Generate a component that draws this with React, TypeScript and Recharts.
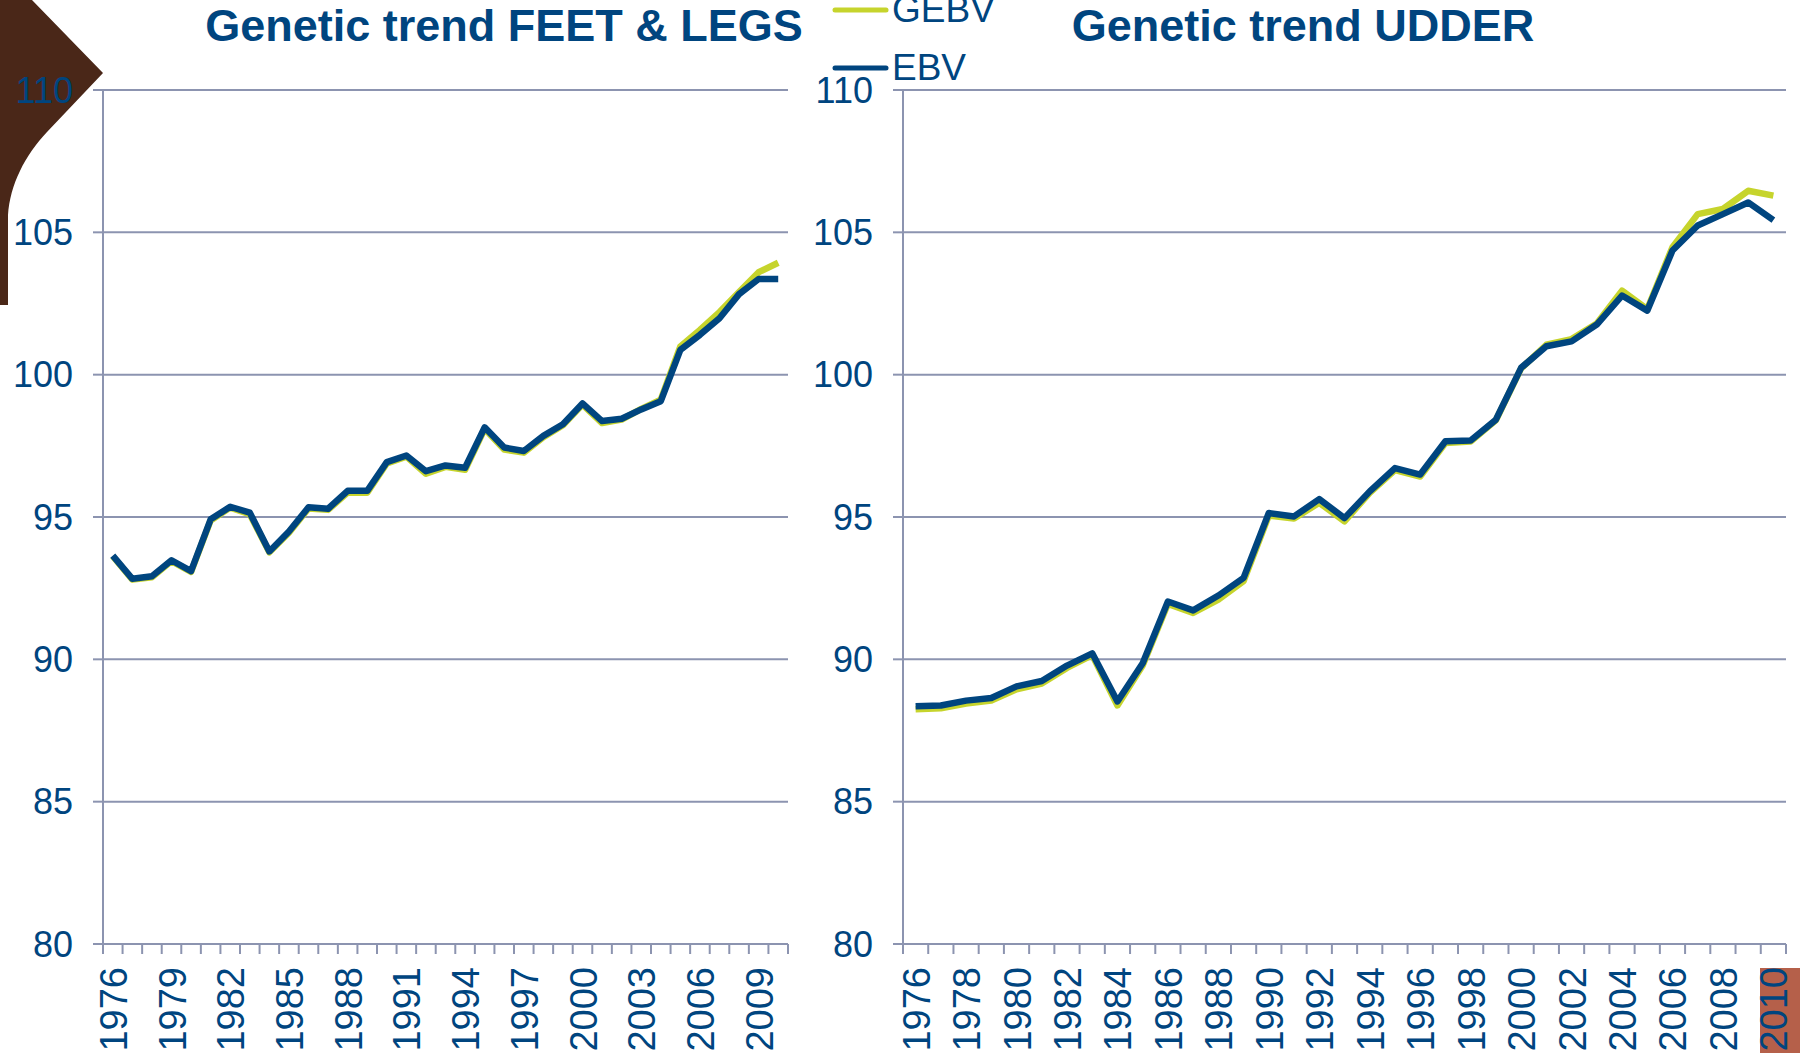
import React from 'react'
import { LineChart, Line, XAxis, YAxis, CartesianGrid } from 'recharts'

const years = [
  1976, 1977, 1978, 1979, 1980, 1981, 1982, 1983, 1984, 1985, 1986, 1987,
  1988, 1989, 1990, 1991, 1992, 1993, 1994, 1995, 1996, 1997, 1998, 1999,
  2000, 2001, 2002, 2003, 2004, 2005, 2006, 2007, 2008, 2009, 2010,
]

// feet & legs
const feetEbv = [
  93.64, 92.83, 92.92, 93.48, 93.1, 94.92, 95.36, 95.15, 93.79, 94.49, 95.34, 95.29,
  95.92, 95.92, 96.93, 97.16, 96.61, 96.81, 96.73, 98.15, 97.44, 97.32, 97.85, 98.26,
  98.99, 98.37, 98.45, 98.78, 99.07, 100.87, 101.4, 101.98, 102.83, 103.36, 103.36,
]
const feetGebv = [
  93.62, 92.8, 92.88, 93.45, 93.07, 94.88, 95.33, 95.1, 93.76, 94.45, 95.3, 95.25,
  95.86, 95.85, 96.88, 97.12, 96.52, 96.76, 96.66, 98.1, 97.37, 97.26, 97.8, 98.22,
  98.95, 98.3, 98.42, 98.8, 99.12, 100.99, 101.57, 102.2, 102.9, 103.6, 103.93,
]

// udder
const udderEbv = [
  88.35, 88.38, 88.55, 88.64, 89.05, 89.24, 89.78, 90.21, 88.52, 89.86, 92.03, 91.72,
  92.24, 92.86, 95.14, 95.02, 95.63, 94.96, 95.9, 96.72, 96.49, 97.66, 97.69, 98.42,
  100.24, 101.0, 101.17, 101.76, 102.78, 102.25, 104.36, 105.24, 105.64, 106.05, 105.43,
]
const udderGebv = [
  88.25, 88.28, 88.45, 88.55, 88.95, 89.15, 89.7, 90.15, 88.38, 89.78, 91.95, 91.63,
  92.1, 92.75, 95.05, 94.95, 95.5, 94.85, 95.85, 96.65, 96.42, 97.6, 97.65, 98.4,
  100.22, 101.05, 101.25, 101.8, 102.95, 102.3, 104.48, 105.64, 105.82, 106.46, 106.29,
]

const yTicks = [80, 85, 90, 95, 100, 105, 110]
const feetLabelYears = [1976, 1979, 1982, 1985, 1988, 1991, 1994, 1997, 2000, 2003, 2006, 2009]
const udderLabelYears = [
  1976, 1978, 1980, 1982, 1984, 1986, 1988, 1990, 1992, 1994, 1996, 1998, 2000, 2002,
  2004, 2006, 2008, 2010,
]

const NAVY = '#00457f'
const GREEN = '#c6d42c'
const GRID = '#8c94b0'
const FONT = '"Liberation Sans", Arial, sans-serif'

const makeRows = (ebv: number[], gebv: number[]) =>
  years.map((year, i) => ({ idx: i, year, ebv: ebv[i], gebv: gebv[i] }))

// tick marks sit between categories (excel style), labels at the category centre
function XTick(props: any) {
  const { x, y, payload, labels } = props
  const v = payload.value
  if (!Number.isInteger(v)) {
    return <line x1={x} x2={x} y1={y} y2={y + 10} stroke={GRID} strokeWidth={2} />
  }
  if (!labels.includes(years[v])) return <g />
  return (
    <text
      transform={`translate(${x + 14},${y + 23}) rotate(-90)`}
      textAnchor="end"
      fill={NAVY}
      fontSize={38}
      fontFamily={FONT}
    >
      {years[v]}
    </text>
  )
}

interface TrendProps {
  rows: { idx: number; year: number; ebv: number; gebv: number }[]
  labels: number[]
  left: number
  width: number
  rightMargin: number
}

function TrendChart({ rows, labels, left, width, rightMargin }: TrendProps) {
  const boundaries = years.map((_, i) => i - 0.5).concat(years.length - 0.5)
  const labelIdx = labels.map((yr) => years.indexOf(yr))
  const ticks = [...boundaries, ...labelIdx].sort((a, b) => a - b)

  return (
    <div style={{ position: 'absolute', left, top: 0 }}>
      <LineChart
        width={width}
        height={1053}
        data={rows}
        margin={{ top: 90, right: rightMargin, bottom: 0, left: 0 }}
      >
        <CartesianGrid vertical={false} stroke={GRID} strokeWidth={2} />
        <XAxis
          type="number"
          dataKey="idx"
          domain={[-0.5, years.length - 0.5]}
          ticks={ticks}
          interval={0}
          allowDataOverflow
          height={109}
          tickSize={0}
          tickMargin={0}
          tickLine={false}
          axisLine={{ stroke: GRID, strokeWidth: 2 }}
          tick={(p: any) => <XTick {...p} labels={labels} />}
        />
        <YAxis
          domain={[80, 110]}
          ticks={yTicks}
          interval={0}
          width={103}
          tickSize={10}
          tickMargin={20}
          axisLine={{ stroke: GRID, strokeWidth: 2 }}
          tickLine={{ stroke: GRID, strokeWidth: 2 }}
          tick={{ fill: NAVY, fontSize: 36, fontFamily: FONT }}
        />
        <Line
          dataKey="gebv"
          stroke={GREEN}
          strokeWidth={6.5}
          dot={false}
          strokeLinejoin="round"
          isAnimationActive={false}
        />
        <Line
          dataKey="ebv"
          stroke={NAVY}
          strokeWidth={6.5}
          dot={false}
          strokeLinejoin="round"
          isAnimationActive={false}
        />
      </LineChart>
    </div>
  )
}

export default function App() {
  return (
    <div
      style={{
        position: 'absolute',
        left: 0,
        top: 0,
        width: 1800,
        height: 1053,
        background: '#fff',
        overflow: 'hidden',
        fontFamily: FONT,
      }}
    >
      {/* slide decoration behind the charts */}
      <svg width={1800} height={1053} style={{ position: 'absolute', left: 0, top: 0 }}>
        <path
          d="M0,0 L32,0 L103,73 L47,132 C25,155 10,185 8,215 L8,305 L0,305 Z"
          fill="#4a2718"
        />
        <rect x={1760} y={968} width={40} height={85} fill="#b5604a" />
      </svg>

      <TrendChart rows={makeRows(feetEbv, feetGebv)} labels={feetLabelYears} left={0} width={800} rightMargin={12} />
      <TrendChart rows={makeRows(udderEbv, udderGebv)} labels={udderLabelYears} left={800} width={1000} rightMargin={14} />

      {/* titles + legend */}
      <svg
        width={1800}
        height={1053}
        style={{ position: 'absolute', left: 0, top: 0, pointerEvents: 'none' }}
      >
        <text x={504} y={41} textAnchor="middle" fontSize={45} fontWeight="bold" fill={NAVY} fontFamily={FONT}>
          Genetic trend FEET &amp; LEGS
        </text>
        <text x={1303} y={41} textAnchor="middle" fontSize={45} fontWeight="bold" fill={NAVY} fontFamily={FONT}>
          Genetic trend UDDER
        </text>
        <line x1={835} x2={886} y1={10} y2={10} stroke={GREEN} strokeWidth={5} strokeLinecap="round" />
        <text x={892} y={22} fontSize={37} fill={NAVY} fontFamily={FONT}>GEBV</text>
        <line x1={835} x2={886} y1={68} y2={68} stroke={NAVY} strokeWidth={5} strokeLinecap="round" />
        <text x={892} y={80} fontSize={37} fill={NAVY} fontFamily={FONT}>EBV</text>
      </svg>
    </div>
  )
}
